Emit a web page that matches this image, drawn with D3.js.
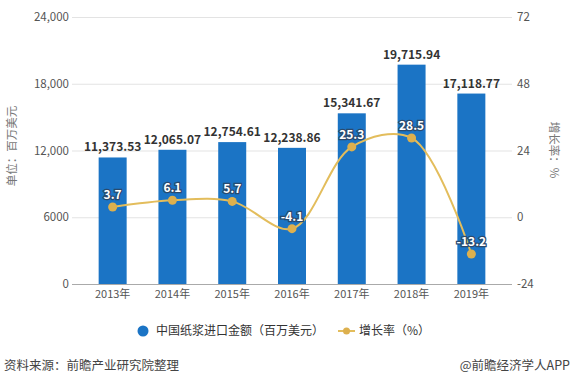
<!DOCTYPE html>
<html>
<head>
<meta charset="utf-8">
<script src="https://cdn.jsdelivr.net/npm/d3@7"></script>
<style>
  body { margin: 0; background: #fff; }
  svg { display: block; font-family: "Noto Sans CJK SC", "Noto Sans", sans-serif; }
</style>
</head>
<body>
<svg width="575" height="382"></svg>
<script>
var years = ['2013年', '2014年', '2015年', '2016年', '2017年', '2018年', '2019年'];
var amount = [11373.53, 12065.07, 12754.61, 12238.86, 15341.67, 19715.94, 17118.77];
var growth = [3.7, 6.1, 5.7, -4.1, 25.3, 28.5, -13.2];
var leftTicks = [0, 6000, 12000, 18000, 24000];
var rightTicks = [-24, 0, 24, 48, 72];

var svg = d3.select('svg');
var plotL = 72, plotR = 512, plotT = 17, plotB = 284;

var x = d3.scalePoint().domain(years).range([plotL, plotR]).padding(0.68);
var yL = d3.scaleLinear().domain([0, 24000]).range([plotB, plotT]);
var yR = d3.scaleLinear().domain([-24, 72]).range([plotB, plotT]);
var barW = 28;

// grid
svg.append('g')
  .selectAll('line')
  .data(leftTicks)
  .enter()
  .append('line')
  .attr('x1', plotL).attr('x2', plotR)
  .attr('y1', d => yL(d) + 0.5).attr('y2', d => yL(d) + 0.5)
  .attr('stroke', d => d === 0 ? '#aaa' : '#e3e3e3')
  .attr('stroke-width', 1);

// left ticks
svg.append('g')
  .selectAll('text')
  .data(leftTicks)
  .enter()
  .append('text')
  .attr('x', plotL - 3)
  .attr('y', d => yL(d))
  .attr('dy', '0.35em')
  .attr('text-anchor', 'end')
  .attr('font-size', 11.5)
  .attr('fill', '#555')
  .text(d => d === 6000 ? '6000' : d3.format(',')(d));

// right ticks
svg.append('g')
  .selectAll('text')
  .data(rightTicks)
  .enter()
  .append('text')
  .attr('x', plotR + 5)
  .attr('y', d => yR(d))
  .attr('dy', '0.35em')
  .attr('text-anchor', 'start')
  .attr('font-size', 11.5)
  .attr('fill', '#555')
  .text(d => d);

// x labels
svg.append('g')
  .selectAll('text')
  .data(years)
  .enter()
  .append('text')
  .attr('x', d => x(d))
  .attr('y', plotB + 14)
  .attr('text-anchor', 'middle')
  .attr('font-size', 11)
  .attr('fill', '#555')
  .text(d => d);

// axis titles
svg.append('text')
  .attr('transform', 'translate(16,146) rotate(-90)')
  .attr('text-anchor', 'middle')
  .attr('font-size', 11.5)
  .attr('fill', '#777')
  .text('单位：百万美元');

svg.append('text')
  .attr('transform', 'translate(550,150) rotate(90)')
  .attr('text-anchor', 'middle')
  .attr('font-size', 11.5)
  .attr('fill', '#777')
  .text('增长率：%');

// bars
svg.append('g')
  .selectAll('rect')
  .data(amount)
  .enter()
  .append('rect')
  .attr('x', (d, i) => x(years[i]) - barW / 2)
  .attr('width', barW)
  .attr('y', d => yL(d))
  .attr('height', d => yL(0) - yL(d))
  .attr('fill', '#1b74c5');

svg.append('g')
  .selectAll('text')
  .data(amount)
  .enter()
  .append('text')
  .attr('x', (d, i) => x(years[i]))
  .attr('y', d => yL(d) - 6)
  .attr('text-anchor', 'middle')
  .attr('font-size', 12)
  .attr('font-weight', 'bold')
  .attr('fill', '#333')
  .text(d => d3.format(',.2f')(d));

// growth line
var line = d3.line()
  .x((d, i) => x(years[i]))
  .y(d => yR(d))
  .curve(d3.curveCatmullRom.alpha(0.5));

svg.append('path')
  .datum(growth)
  .attr('d', line)
  .attr('fill', 'none')
  .attr('stroke', '#e3bd5c')
  .attr('stroke-width', 2);

svg.append('g')
  .selectAll('circle')
  .data(growth)
  .enter()
  .append('circle')
  .attr('cx', (d, i) => x(years[i]))
  .attr('cy', d => yR(d))
  .attr('r', 4.5)
  .attr('fill', '#ddb04e');

svg.append('g')
  .selectAll('text')
  .data(growth)
  .enter()
  .append('text')
  .attr('x', (d, i) => x(years[i]))
  .attr('y', d => yR(d) - 8)
  .attr('text-anchor', 'middle')
  .attr('font-size', 12)
  .attr('font-weight', 'bold')
  .attr('fill', '#fff')
  .attr('stroke', '#2a4a6e')
  .attr('stroke-width', 2.5)
  .attr('paint-order', 'stroke')
  .text(d => d);

// legend
var lg = svg.append('g');
lg.append('circle').attr('cx', 143).attr('cy', 331).attr('r', 5.5).attr('fill', '#1b74c5');
lg.append('text').attr('x', 156).attr('y', 331).attr('dy', '0.35em')
  .attr('font-size', 12).attr('fill', '#333').text('中国纸浆进口金额（百万美元）');
lg.append('line').attr('x1', 338).attr('x2', 355).attr('y1', 331).attr('y2', 331)
  .attr('stroke', '#e3bd5c').attr('stroke-width', 2);
lg.append('circle').attr('cx', 346.5).attr('cy', 331).attr('r', 3.5).attr('fill', '#ddb04e');
lg.append('text').attr('x', 359).attr('y', 331).attr('dy', '0.35em')
  .attr('font-size', 12).attr('fill', '#333').text('增长率（%）');

// footer
svg.append('text').attr('x', 4).attr('y', 366).attr('dy', '0.35em')
  .attr('font-size', 12.5).attr('fill', '#444').text('资料来源：前瞻产业研究院整理');
svg.append('text').attr('x', 570).attr('y', 366).attr('dy', '0.35em')
  .attr('text-anchor', 'end')
  .attr('font-size', 12.5).attr('fill', '#444').text('@前瞻经济学人APP');
</script>
</body>
</html>
